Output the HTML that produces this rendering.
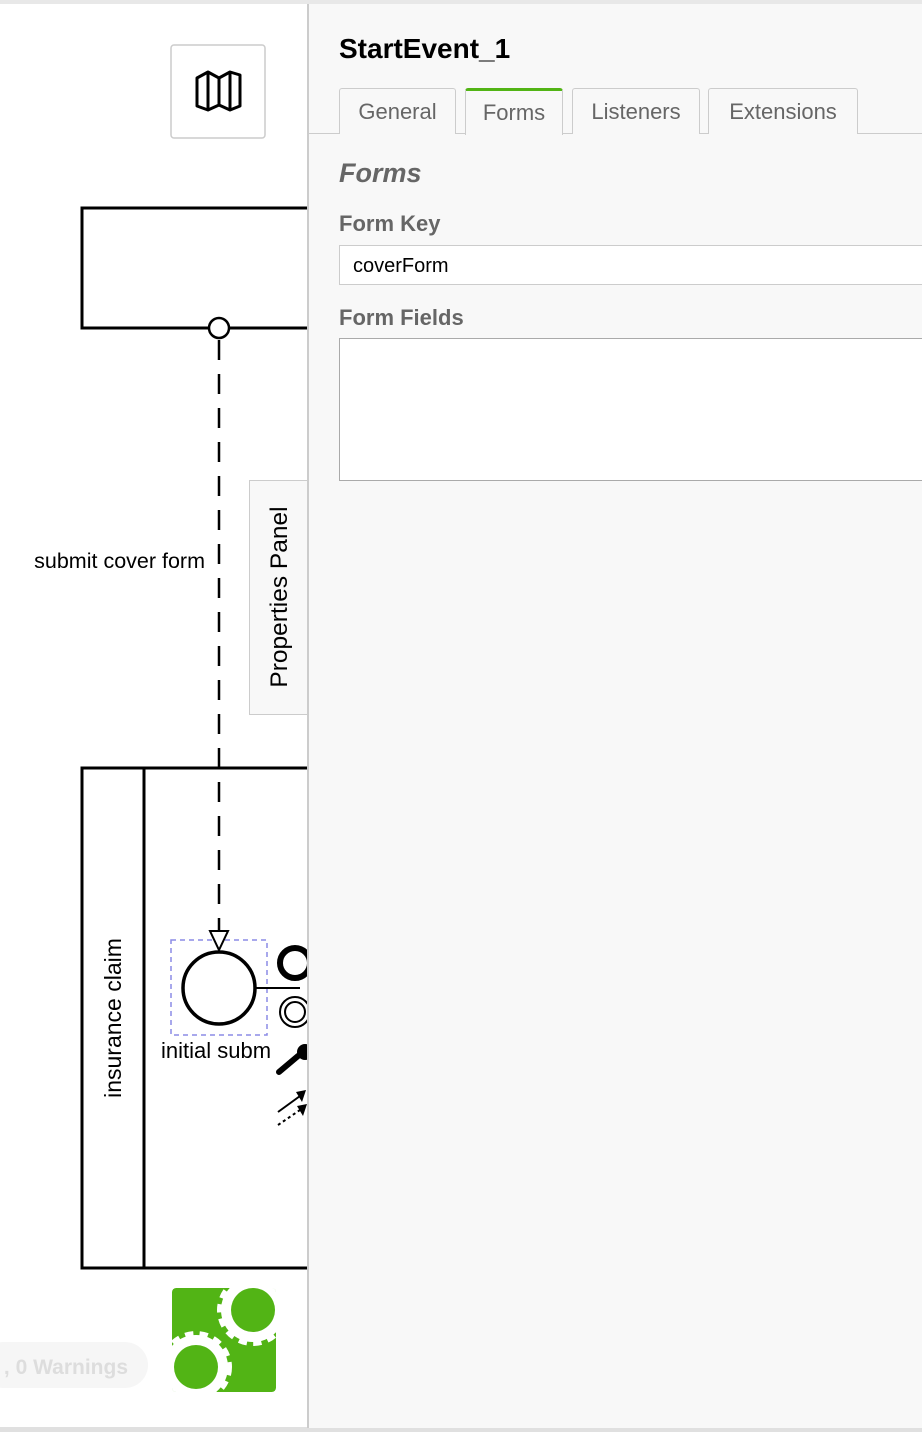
<!DOCTYPE html>
<html><head><style>
body{margin:0;width:922px;height:1432px;position:relative;overflow:hidden;background:#fff;font-family:"Liberation Sans",Arial,sans-serif;}
.abs{position:absolute}
.panel{left:307px;top:4px;width:615px;height:1424px;background:#f8f8f8;border-left:2px solid #ccc;box-sizing:border-box}
.tab{position:absolute;top:88px;height:46px;border:1px solid #ccc;border-bottom:none;border-radius:3px 3px 0 0;box-sizing:border-box;font-size:22px;color:#666;text-align:center;line-height:46px;background:#f8f8f8}
.lbl{font-weight:bold;color:#666;font-size:22px}
</style></head><body>
<div class="abs" style="left:0;top:0;width:922px;height:4px;background:#e8e8e8"></div>
<div class="abs" style="left:0;top:1427px;width:922px;height:5px;background:#e0e0e0"></div>
<svg class="abs" style="left:0;top:0" width="922" height="1432">
 <defs><clipPath id="gc"><rect x="172" y="1288" width="104" height="104" rx="4"/></clipPath></defs>
 <rect x="171" y="45" width="94" height="93" rx="3" fill="#fff" stroke="#ccc" stroke-width="1.5"/>
 <path d="M197 78 L208 72 L219 78 L230 72 L240 75 L240 106 L230 110 L219 105 L208 110 L197 106 Z M208 72 V110 M219 78 V105 M230 72 V110" fill="none" stroke="#000" stroke-width="3" stroke-linejoin="round"/>
 <rect x="82" y="208" width="260" height="120" fill="none" stroke="#000" stroke-width="3"/>
 <line x1="219" y1="340" x2="219" y2="930" stroke="#000" stroke-width="2.5" stroke-dasharray="20,14"/>
 <circle cx="219" cy="328" r="10" fill="#fff" stroke="#000" stroke-width="2.5"/>
 <text x="205" y="568" text-anchor="end" font-size="21.5" font-family="Liberation Sans">submit cover form</text>
 <rect x="82" y="768" width="260" height="500" fill="none" stroke="#000" stroke-width="3"/>
 <line x1="144" y1="768" x2="144" y2="1268" stroke="#000" stroke-width="3"/>
 <text transform="translate(121,1018) rotate(-90)" text-anchor="middle" font-size="23" font-family="Liberation Sans">insurance claim</text>
 <rect x="171" y="940" width="96" height="95" fill="none" stroke="#8c8ce6" stroke-width="1.5" stroke-dasharray="5,4"/>
 <polygon points="210,931 228,931 219,950" fill="#fff" stroke="#000" stroke-width="2"/>
 <circle cx="219" cy="988" r="36" fill="#fff" stroke="#000" stroke-width="3.5"/>
 <line x1="255" y1="988" x2="300" y2="988" stroke="#000" stroke-width="2"/>
 <circle cx="295" cy="963" r="15" fill="none" stroke="#000" stroke-width="6"/>
 <circle cx="295" cy="1012" r="15" fill="none" stroke="#000" stroke-width="2"/>
 <circle cx="295" cy="1012" r="10" fill="none" stroke="#000" stroke-width="2"/>
 <line x1="279" y1="1072" x2="298" y2="1056" stroke="#000" stroke-width="6" stroke-linecap="round"/>
 <circle cx="305" cy="1052" r="8" fill="#000"/>
 <line x1="278" y1="1112" x2="300" y2="1096" stroke="#000" stroke-width="2"/>
 <polygon points="296,1092 306,1090 302,1102" fill="#000"/>
 <line x1="278" y1="1125" x2="300" y2="1110" stroke="#000" stroke-width="2" stroke-dasharray="3,3"/>
 <polygon points="297,1106 307,1104 303,1116" fill="#000"/>
 <text x="161" y="1058" font-size="22" font-family="Liberation Sans">initial subm</text>
 <rect x="-20" y="1342" width="168" height="46" rx="23" fill="#f6f6f6"/>
 <text x="128" y="1374" text-anchor="end" font-size="21" font-weight="bold" fill="#ddd" font-family="Liberation Sans">, 0 Warnings</text>
 <g clip-path="url(#gc)">
 <rect x="172" y="1288" width="104" height="104" rx="4" fill="#52b415"/>
 <circle cx="253" cy="1310" r="32" fill="#fff" stroke="#fff" stroke-width="8" stroke-dasharray="8,6"/>
 <circle cx="253" cy="1310" r="22" fill="#52b415"/>
 <circle cx="196" cy="1367" r="32" fill="#fff" stroke="#fff" stroke-width="8" stroke-dasharray="8,6"/>
 <circle cx="196" cy="1367" r="22" fill="#52b415"/>
 </g>
</svg>
<div class="abs panel"></div>
<div class="abs" style="left:249px;top:480px;width:58px;height:235px;background:#f8f8f8;border:1px solid #ccc;border-right:none;box-sizing:border-box"></div>
<div class="abs" style="left:280px;top:597px;transform:translate(-50%,-50%) rotate(-90deg);font-size:24.5px;white-space:nowrap">Properties Panel</div>
<div class="abs" style="left:339px;top:33px;font-size:28px;font-weight:bold">StartEvent_1</div>
<div class="abs" style="left:309px;top:133px;width:613px;height:1px;background:#ccc"></div>
<div class="tab" style="left:339px;width:117px">General</div>
<div class="tab" style="left:465px;width:98px;border-top:3px solid #52b415;height:47px;line-height:44px">Forms</div>
<div class="tab" style="left:572px;width:128px">Listeners</div>
<div class="tab" style="left:708px;width:150px">Extensions</div>
<div class="abs" style="left:339px;top:158px;font-size:27px;font-weight:bold;font-style:italic;color:#666">Forms</div>
<div class="abs lbl" style="left:339px;top:211px">Form Key</div>
<div class="abs" style="left:339px;top:245px;width:600px;height:40px;background:#fff;border:1px solid #ccc;box-sizing:border-box;font-size:20px;padding:9px 13px">coverForm</div>
<div class="abs lbl" style="left:339px;top:305px">Form Fields</div>
<div class="abs" style="left:339px;top:338px;width:600px;height:143px;background:#fff;border:1.5px solid #aaa;box-sizing:border-box"></div>
</body></html>
